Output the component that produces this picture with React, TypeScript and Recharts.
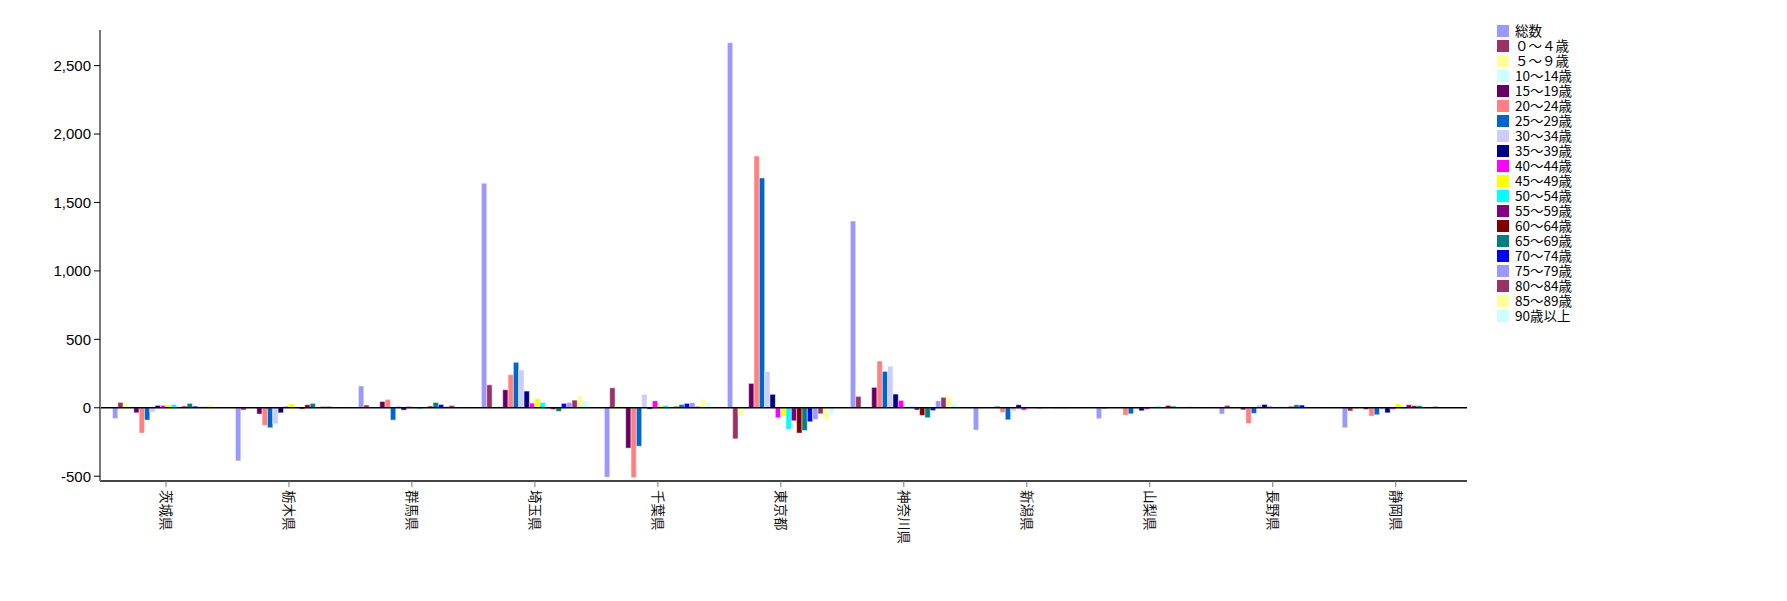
import React from 'react';
import { BarChart, Bar, XAxis, YAxis, ReferenceLine, Legend } from 'recharts';

const prefectures = ['茨城県', '栃木県', '群馬県', '埼玉県', '千葉県', '東京都', '神奈川県', '新潟県', '山梨県', '長野県', '静岡県'];

const seriesNames = [
  '総数', '０～４歳', '５～９歳', '10～14歳', '15～19歳', '20～24歳', '25～29歳', '30～34歳',
  '35～39歳', '40～44歳', '45～49歳', '50～54歳', '55～59歳', '60～64歳', '65～69歳', '70～74歳',
  '75～79歳', '80～84歳', '85～89歳', '90歳以上',
];

const seriesColors = [
  '#9999FF', '#993366', '#FFFF99', '#CCFFFF', '#660066', '#FF8080', '#0066CC', '#CCCCFF',
  '#000080', '#FF00FF', '#FFFF00', '#00FFFF', '#800080', '#800000', '#008080', '#0000FF',
  '#9999FF', '#993366', '#FFFF99', '#CCFFFF',
];

const total = [-78, -388, 159, 1640, -507, 2667, 1364, -163, -80, -46, -146];
const age0_4 = [39, -17, 20, 168, 146, -227, 83, -2, -7, 17, -24];
const age5_9 = [32, -3, 3, 5, 17, -54, 2, 2, 7, -10, -7];
const age10_14 = [12, -2, 3, 17, 12, -12, 2, 2, -7, 7, -5];
const age15_19 = [-37, -46, 46, 132, -295, 178, 149, 10, 5, -15, -12];
const age20_24 = [-185, -129, 61, 242, -510, 1840, 342, -34, -54, -115, -61];
const age25_29 = [-90, -146, -90, 332, -281, 1679, 266, -88, -44, -41, -51];
const age30_34 = [-32, -117, 15, 276, 98, 264, 303, -24, -5, 22, -15];
const age35_39 = [17, -37, -17, 122, -10, 98, 100, 22, -22, 24, -37];
const age40_44 = [17, 10, 10, 34, 51, -73, 54, -17, -12, 10, -12];
const age45_49 = [24, 29, -3, 68, 17, -63, 3, 2, 5, 3, 32];
const age50_54 = [24, 3, -10, 39, 17, -156, 10, 2, 10, 7, -7];
const age55_59 = [5, -10, 2, -5, 3, -95, -17, -5, 5, 2, 22];
const age60_64 = [12, 22, 12, -12, 10, -185, -56, -2, 17, 10, 15];
const age65_69 = [32, 32, 39, -27, 24, -166, -73, 2, 12, 22, 15];
const age70_74 = [12, 3, 24, 32, 32, -102, -20, -3, 3, 20, 5];
const age75_79 = [7, 12, 10, 39, 37, -85, 51, -5, 3, 3, 2];
const age80_84 = [7, 10, 17, 56, 10, -44, 76, -3, 7, 2, 10];
const age85_89 = [24, 5, 3, 88, 61, -88, 83, -3, 7, 3, 3];
const age90plus = [7, 5, 3, 49, 41, -44, 29, -3, 2, 3, 3];

const yTicks = [-500, 0, 500, 1000, 1500, 2000, 2500];

const seriesValues = [
  total, age0_4, age5_9, age10_14, age15_19, age20_24, age25_29, age30_34, age35_39, age40_44,
  age45_49, age50_54, age55_59, age60_64, age65_69, age70_74, age75_79, age80_84, age85_89, age90plus,
];

const data = prefectures.map((p, i) => {
  const row: Record<string, any> = { name: p };
  seriesValues.forEach((vals, j) => {
    row['s' + j] = vals[i];
  });
  return row;
});

const CJK = '"Noto Sans CJK JP", "Noto Sans", sans-serif';
const LATIN = '"Liberation Sans", Arial, sans-serif';

const CatTick = (props: any) => {
  const { x, y, payload } = props;
  return (
    <g transform={`translate(${x},${y})`}>
      <text
        transform="rotate(90)"
        x={1}
        y={0}
        dy="0.35em"
        textAnchor="start"
        fontSize={13.5}
        fontFamily={CJK}
        fill="#111"
      >
        {payload.value}
      </text>
    </g>
  );
};

const renderLegend = () => (
  <div style={{ fontFamily: CJK, fontSize: 13.5, color: '#000' }}>
    {seriesNames.map((n, i) => (
      <div key={i} style={{ display: 'flex', alignItems: 'center', height: 15, whiteSpace: 'nowrap' }}>
        <span
          style={{
            width: 12,
            height: 12,
            background: seriesColors[i],
            marginRight: 6,
            display: 'inline-block',
            flex: '0 0 12px',
          }}
        />
        <span style={{ lineHeight: '15px' }}>{n}</span>
      </div>
    ))}
  </div>
);

export default function App() {
  return (
    <BarChart
      width={1771}
      height={585}
      data={data}
      margin={{ top: 22, right: 312, left: 0, bottom: 52 }}
      barGap={0}
      barSize={5.33}
    >
      <XAxis
        dataKey="name"
        interval={0}
        padding={{ left: 4.5, right: 9.8 }}
        tickSize={6}
        axisLine={{ stroke: '#444', strokeWidth: 2 }}
        tickLine={{ stroke: '#777' }}
        tick={<CatTick />}
        height={60}
      />
      <YAxis
        width={92}
        domain={[-535, 2760]}
        ticks={yTicks}
        allowDataOverflow
        tickFormatter={(v: number) => v.toLocaleString('en-US')}
        axisLine={{ stroke: '#777', strokeWidth: 2 }}
        tickLine={{ stroke: '#000' }}
        tickSize={6}
        tickMargin={3}
        tick={{ fill: '#000', fontSize: 15, fontFamily: LATIN }}
      />
      <Legend
        layout="vertical"
        align="center"
        verticalAlign="middle"
        content={renderLegend}
        wrapperStyle={{ position: 'absolute', left: 1489, top: 15, width: 140, height: 310 }}
      />
      {seriesNames.map((n, j) => (
        <Bar
          key={j}
          dataKey={'s' + j}
          name={n}
          fill={seriesColors[j]}
          stroke="rgba(255,255,255,0.45)"
          strokeWidth={1}
          isAnimationActive={false}
        />
      ))}
      <ReferenceLine y={0} stroke="#000" strokeWidth={1.5} />
    </BarChart>
  );
}
